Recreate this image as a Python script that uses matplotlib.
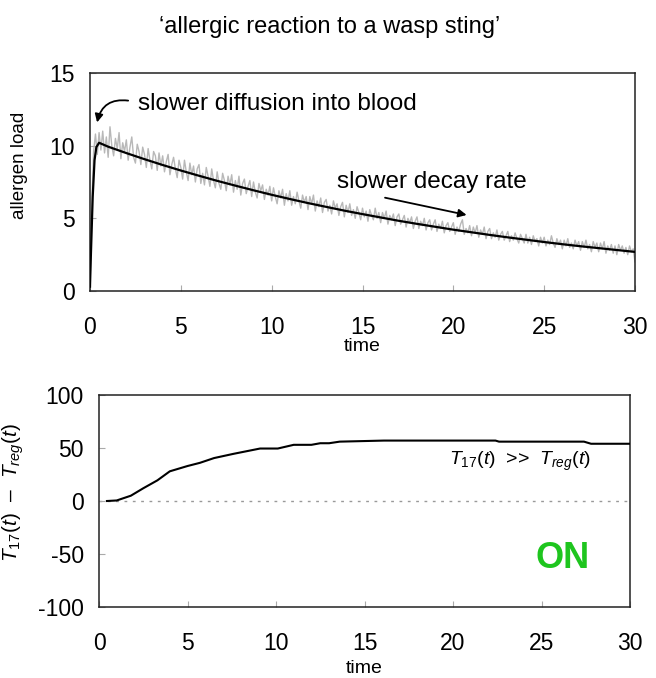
import numpy as np
import matplotlib as mpl
import matplotlib.pyplot as plt

mpl.rcParams.update({
    "font.family": "sans-serif",
    "font.sans-serif": ["Liberation Sans", "DejaVu Sans"],
    "mathtext.fontset": "custom", "mathtext.rm": "Liberation Sans",
    "mathtext.it": "Liberation Sans:italic", "mathtext.bf": "Liberation Sans:bold",
    "axes.unicode_minus": False,
})

# ---- top panel: allergen load (noisy trace every 0.1 time units) ----
noisy_t = np.round(np.arange(0, 30.001, 0.1), 2)
noisy_load = [
    0.2, 6.0, 9.6, 10.8, 9.4, 10.9, 9.7, 11.0, 9.5, 10.6,
    9.2, 11.3, 10.0, 9.3, 10.5, 9.8, 10.9, 9.1, 10.2, 9.6,
    10.4, 9.0, 9.9, 10.6, 9.2, 8.8, 10.1, 9.6, 8.7, 9.9,
    9.4, 8.5, 9.8, 9.0, 8.4, 9.6, 9.3, 8.3, 9.5, 8.6,
    9.3, 8.2, 8.9, 9.4, 8.0, 8.7, 9.2, 8.4, 7.8, 9.0,
    8.5, 7.7, 9.0, 8.2, 7.6, 8.8, 8.0, 8.6, 7.5, 8.4,
    8.7, 7.4, 8.1, 7.3, 8.5, 7.9, 7.2, 8.4, 7.6, 7.1,
    8.2, 7.4, 7.0, 8.1, 7.6, 6.9, 7.9, 7.3, 8.0, 6.8,
    7.6, 7.0, 7.9, 6.6, 7.4, 7.7, 6.7, 7.2, 7.6, 6.5,
    7.5, 6.8, 6.4, 7.4, 6.9, 7.3, 6.3, 7.0, 6.6, 7.2,
    6.2, 7.1, 6.5, 6.0, 6.9, 6.4, 7.0, 5.9, 6.7, 6.2,
    6.9, 5.9, 6.5, 6.0, 6.8, 6.2, 5.7, 6.6, 6.1, 6.5,
    5.6, 6.5, 6.0, 6.6, 5.5, 6.2, 5.8, 6.4, 5.4, 6.1,
    6.3, 5.5, 5.9, 5.3, 6.2, 5.7, 6.0, 5.2, 5.8, 6.1,
    5.1, 5.9, 5.4, 6.0, 5.2, 5.6, 5.0, 5.8, 5.4, 4.9,
    5.7, 5.1, 5.5, 4.8, 5.6, 5.2, 4.9, 5.7, 5.0, 5.4,
    4.7, 5.4, 5.0, 5.5, 4.6, 5.2, 4.9, 5.3, 4.5, 5.1,
    5.3, 4.6, 4.9, 5.2, 4.4, 5.0, 4.7, 5.1, 4.3, 4.8,
    5.1, 4.3, 4.8, 4.5, 5.0, 4.2, 4.7, 4.9, 4.2, 4.6,
    4.9, 4.1, 4.6, 4.3, 4.8, 4.0, 4.5, 4.7, 4.1, 4.4,
    4.7, 3.9, 4.4, 4.1, 4.6, 4.9, 3.9, 4.3, 4.0, 4.5,
    3.8, 4.4, 4.0, 4.5, 3.7, 4.2, 3.9, 4.4, 3.6, 4.1,
    4.3, 3.6, 4.0, 3.7, 4.2, 3.5, 3.9, 4.1, 3.5, 3.8,
    4.1, 3.4, 3.8, 3.5, 4.0, 3.6, 3.3, 3.9, 3.6, 3.3,
    3.9, 3.3, 3.7, 3.2, 3.8, 3.4, 3.6, 3.1, 3.7, 3.3,
    3.7, 3.1, 3.5, 3.2, 3.8, 3.3, 3.0, 3.6, 3.2, 3.5,
    2.9, 3.5, 3.1, 3.6, 3.0, 3.3, 2.9, 3.5, 3.1, 3.4,
    2.8, 3.4, 3.0, 3.5, 2.9, 3.2, 2.7, 3.4, 3.0, 3.3,
    2.7, 3.3, 2.9, 3.4, 2.6, 3.1, 2.8, 3.2, 2.6, 3.1,
    2.5, 3.2, 2.8, 3.1, 2.6, 3.0, 2.5, 3.1, 2.7, 2.9,
    2.0,
]
mean_t = [0, 0.05, 0.15, 0.25, 0.35, 0.5, 1, 2, 3, 4, 5, 6, 7, 8, 9, 10,
          11, 12, 13, 14, 15, 16, 17, 18, 19, 20, 21, 22, 23, 24, 25,
          26, 27, 28, 29, 30]
mean_load = [0.3, 2.5, 6.5, 9.0, 9.9, 10.2, 9.93, 9.49, 9.07, 8.67, 8.29,
             7.93, 7.58, 7.25, 6.93, 6.62, 6.33, 6.05, 5.79, 5.53, 5.29,
             5.06, 4.83, 4.62, 4.42, 4.22, 4.04, 3.86, 3.69, 3.53, 3.37,
             3.22, 3.08, 2.95, 2.82, 2.69]

# ---- bottom panel: T17 - Treg ----
diff_t = [0.45, 1.0, 1.8, 2.5, 3.3, 4.0, 5.0, 5.7, 6.5, 7.6, 9.1, 10.1,
          11.0, 12.0, 12.5, 13.0, 13.6, 16.1, 22.4, 22.6, 27.4, 27.8, 30]
diff_val = [0, 0.5, 5, 12, 19.5, 28, 33, 36, 40.5, 44.5, 49.5, 49.5,
            53, 53, 54.5, 54.5, 56, 57, 57, 56, 56, 54, 54]

W, H = 656, 678
fig = plt.figure(figsize=(W / 100, H / 100), dpi=100)
ax1 = fig.add_axes([90 / W, 1 - 291 / H, 545 / W, 218 / H])
ax2 = fig.add_axes([99 / W, 1 - 607 / H, 531 / W, 212 / H])

for ax in (ax1, ax2):
    for s in ax.spines.values():
        s.set_color("#222")
        s.set_linewidth(1.1)
    ax.set_xlim(0, 30)
    ax.set_xticks([0, 5, 10, 15, 20, 25, 30])
    ax.tick_params(direction="in", length=4, width=0.8, color="#aaa",
                   labelsize=16.5)
    ax.tick_params(axis="x", pad=18)
    ax.tick_params(axis="y", pad=11)

fig.text(0.503, 1 - 27 / H, "\u2018allergic reaction to a wasp sting\u2019",
         ha="center", va="center", fontsize=17)

ax1.plot(noisy_t, noisy_load, color="#b8b8b8", lw=1.0, zorder=2)
ax1.plot(mean_t, mean_load, color="black", lw=1.6, zorder=3)
ax1.set_ylim(0, 15)
ax1.set_yticks([0, 5, 10, 15])
ax1.set_ylabel("allergen load", fontsize=13.5)
ax1.yaxis.set_label_coords(-0.114, 0.578)
ax1.set_xlabel("time", fontsize=14)
ax1.xaxis.set_label_coords(0.5, -0.215)

ax1.text(2.64, 12.9, "slower diffusion into blood", fontsize=17.5,
         va="center", ha="left")
ax1.annotate("", xy=(0.39, 11.6), xytext=(2.1, 13.1),
             arrowprops=dict(arrowstyle="-|>", color="black", lw=1.3,
                             mutation_scale=12,
                             connectionstyle="arc3,rad=0.45",
                             shrinkA=0, shrinkB=0))
ax1.text(13.6, 7.5, "slower decay rate", fontsize=17.5, va="center",
         ha="left")
ax1.annotate("", xy=(20.73, 5.23), xytext=(16.24, 6.42),
             arrowprops=dict(arrowstyle="-|>", color="black", lw=1.3,
                             mutation_scale=12, shrinkA=0, shrinkB=0))

ax2.axhline(0, color="#999", lw=1.0, ls=(0, (2, 4)), zorder=1)
ax2.plot(diff_t, diff_val, color="black", lw=1.5, zorder=3)
ax2.set_ylim(-100, 100)
ax2.set_yticks([-100, -50, 0, 50, 100])
ax2.set_ylabel("$T_{17}(t)$  \u2013  $T_{reg}(t)$", fontsize=15)
ax2.yaxis.set_label_coords(-0.137, 0.542)
ax2.set_xlabel("time", fontsize=14)
ax2.xaxis.set_label_coords(0.5, -0.25)

ax2.text(19.8, 37, "$T_{17}(t)$  >>  $T_{reg}(t)$", fontsize=14,
         va="center", ha="left")
ax2.text(26.2, -54, "ON", fontsize=26, fontweight="bold", color="#1ec51e",
         ha="center", va="center")

fig.savefig("out.png", dpi=100, facecolor="white")
